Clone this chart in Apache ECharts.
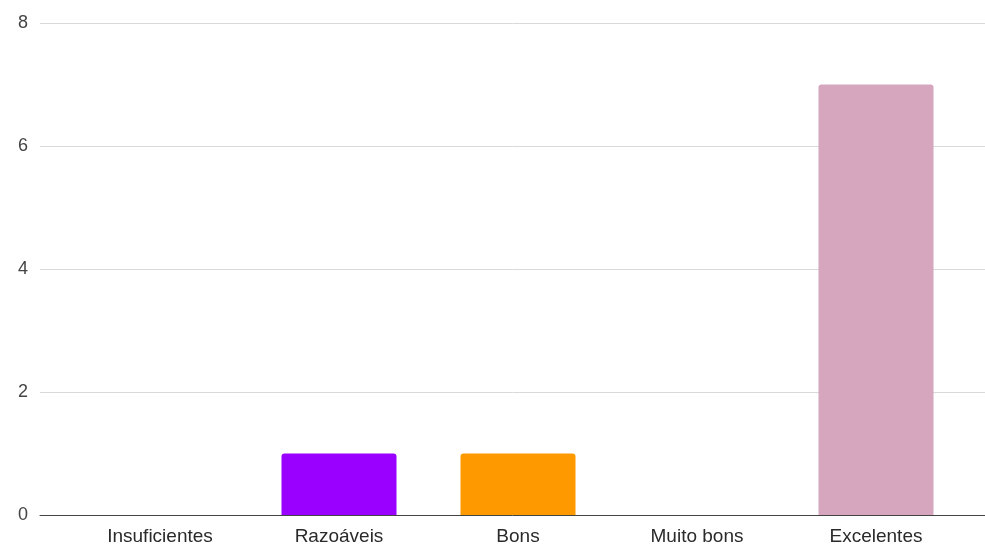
<!DOCTYPE html>
<html><head><meta charset="utf-8">
<script src="https://cdn.jsdelivr.net/npm/echarts@6/dist/echarts.min.js"></script>
<style>html,body{margin:0;padding:0;background:#fff}#c{width:985px;height:546px}</style>
</head><body><div id="c"></div>
<script>
const categories = ['Insuficientes', 'Razoáveis', 'Bons', 'Muito bons', 'Excelentes'];
const values = [0, 1, 1, 0, 7];
const colors = ['#4285f4', '#9900ff', '#ff9900', '#4a86e8', '#d5a6bd'];
const yTicks = [0, 2, 4, 6, 8];

const chart = echarts.init(document.getElementById('c'), null, {renderer: 'canvas'});
chart.setOption({
  animation: false,
  grid: [
    {left: 40, right: 0, top: 23, bottom: 31},
    {left: 70.5, right: 19.5, top: 23, bottom: 31}
  ],
  xAxis: [
    {gridIndex: 0, type: 'value', min: 0, max: 1, show: true,
     axisLine: {show: true, onZero: false, lineStyle: {color: '#444', width: 1}},
     axisTick: {show: false}, axisLabel: {show: false}, splitLine: {show: false}},
    {gridIndex: 1, type: 'category', data: categories,
     axisLine: {show: false}, axisTick: {show: false},
     axisLabel: {color: '#2a2a2a', fontSize: 19, fontFamily: 'Arial, Liberation Sans, sans-serif', margin: 12}}
  ],
  yAxis: [
    {gridIndex: 0, type: 'value', min: yTicks[0], max: yTicks[yTicks.length-1], interval: 2,
     axisLine: {show: false}, axisTick: {show: false},
     axisLabel: {color: '#444', fontSize: 18, fontFamily: 'Arial, Liberation Sans, sans-serif', margin: 12},
     splitLine: {lineStyle: {color: '#d9d9d9', width: 1}}},
    {gridIndex: 1, type: 'value', min: yTicks[0], max: yTicks[yTicks.length-1], interval: 2,
     show: false, splitLine: {show: false}}
  ],
  series: [{
    type: 'bar', xAxisIndex: 1, yAxisIndex: 1,
    barWidth: 115,
    data: values.map((v, i) => ({value: v, itemStyle: {color: colors[i], borderRadius: [3, 3, 0, 0]}})),
    z: 1
  }]
});
</script></body></html>
